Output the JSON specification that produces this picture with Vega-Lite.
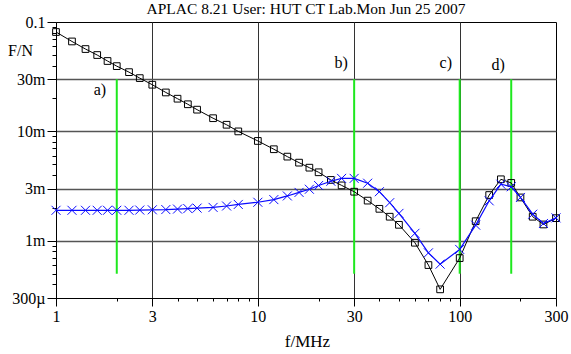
{
  "$schema": "https://vega.github.io/schema/vega-lite/v6.json",
  "width": 500,
  "height": 276,
  "autosize": {"type": "none"},
  "padding": {"left": 56, "top": 22, "right": 15, "bottom": 56},
  "background": "white",
  "title": {"text": "APLAC 8.21 User: HUT CT Lab.Mon Jun 25 2007", "font": "Liberation Serif", "fontSize": 15.5, "fontWeight": "normal", "color": "black", "anchor": "middle", "offset": -15, "baseline": "alphabetic"},
  "config": {
    "font": "Liberation Serif",
    "view": {"stroke": "black", "strokeWidth": 1},
    "axis": {"domainColor": "black", "domainWidth": 1, "tickColor": "black", "tickWidth": 1, "labelColor": "black", "titleColor": "black", "labelFont": "Liberation Serif", "titleFont": "Liberation Serif", "labelFontSize": 16, "titleFontSize": 16, "titleFontWeight": "normal", "labelOverlap": false, "labelFlush": false, "labelBound": false}
  },
  "datasets": {
    "curves": [
      {"f": 1, "v": 0.081, "s": "black"}, {"f": 1.2, "v": 0.0664, "s": "black"}, {"f": 1.4, "v": 0.0566, "s": "black"}, {"f": 1.6, "v": 0.0499, "s": "black"}, {"f": 1.8, "v": 0.044, "s": "black"}, {"f": 2, "v": 0.0395, "s": "black"}, {"f": 2.3, "v": 0.0348, "s": "black"}, {"f": 2.6, "v": 0.0307, "s": "black"}, {"f": 3, "v": 0.0267, "s": "black"}, {"f": 3.5, "v": 0.0227, "s": "black"}, {"f": 4, "v": 0.0199, "s": "black"}, {"f": 4.5, "v": 0.0177, "s": "black"}, {"f": 5, "v": 0.0158, "s": "black"}, {"f": 6, "v": 0.0132, "s": "black"}, {"f": 7, "v": 0.0115, "s": "black"}, {"f": 8, "v": 0.01, "s": "black"}, {"f": 10, "v": 0.00818, "s": "black"}, {"f": 12, "v": 0.00687, "s": "black"}, {"f": 14, "v": 0.00588, "s": "black"}, {"f": 16, "v": 0.00518, "s": "black"}, {"f": 18, "v": 0.00466, "s": "black"}, {"f": 20, "v": 0.00423, "s": "black"}, {"f": 23, "v": 0.0036, "s": "black"}, {"f": 26, "v": 0.00321, "s": "black"}, {"f": 30, "v": 0.00281, "s": "black"}, {"f": 35, "v": 0.00233, "s": "black"}, {"f": 40, "v": 0.00196, "s": "black"}, {"f": 45, "v": 0.00166, "s": "black"}, {"f": 50, "v": 0.0014, "s": "black"}, {"f": 60, "v": 0.00096, "s": "black"}, {"f": 70, "v": 0.0006, "s": "black"}, {"f": 80, "v": 0.00036, "s": "black"}, {"f": 100, "v": 0.000695, "s": "black"}, {"f": 120, "v": 0.00151, "s": "black"}, {"f": 140, "v": 0.00262, "s": "black"}, {"f": 160, "v": 0.00365, "s": "black"}, {"f": 180, "v": 0.00338, "s": "black"}, {"f": 200, "v": 0.00249, "s": "black"}, {"f": 230, "v": 0.00166, "s": "black"}, {"f": 260, "v": 0.00141, "s": "black"}, {"f": 300, "v": 0.00161, "s": "black"},
      {"f": 1, "v": 0.0019, "s": "blue"}, {"f": 1.2, "v": 0.0019, "s": "blue"}, {"f": 1.4, "v": 0.0019, "s": "blue"}, {"f": 1.6, "v": 0.0019, "s": "blue"}, {"f": 1.8, "v": 0.0019, "s": "blue"}, {"f": 2, "v": 0.0019, "s": "blue"}, {"f": 2.3, "v": 0.0019, "s": "blue"}, {"f": 2.6, "v": 0.00191, "s": "blue"}, {"f": 3, "v": 0.00192, "s": "blue"}, {"f": 3.5, "v": 0.00193, "s": "blue"}, {"f": 4, "v": 0.00195, "s": "blue"}, {"f": 4.5, "v": 0.00197, "s": "blue"}, {"f": 5, "v": 0.00199, "s": "blue"}, {"f": 6, "v": 0.00202, "s": "blue"}, {"f": 7, "v": 0.00208, "s": "blue"}, {"f": 8, "v": 0.00215, "s": "blue"}, {"f": 10, "v": 0.00225, "s": "blue"}, {"f": 12, "v": 0.00238, "s": "blue"}, {"f": 14, "v": 0.00257, "s": "blue"}, {"f": 16, "v": 0.00277, "s": "blue"}, {"f": 18, "v": 0.00296, "s": "blue"}, {"f": 20, "v": 0.0032, "s": "blue"}, {"f": 23, "v": 0.0035, "s": "blue"}, {"f": 26, "v": 0.00372, "s": "blue"}, {"f": 30, "v": 0.00372, "s": "blue"}, {"f": 35, "v": 0.00336, "s": "blue"}, {"f": 40, "v": 0.00281, "s": "blue"}, {"f": 45, "v": 0.00223, "s": "blue"}, {"f": 50, "v": 0.00178, "s": "blue"}, {"f": 60, "v": 0.00117, "s": "blue"}, {"f": 70, "v": 0.000776, "s": "blue"}, {"f": 80, "v": 0.000612, "s": "blue"}, {"f": 100, "v": 0.000834, "s": "blue"}, {"f": 120, "v": 0.00139, "s": "blue"}, {"f": 140, "v": 0.00232, "s": "blue"}, {"f": 160, "v": 0.00329, "s": "blue"}, {"f": 180, "v": 0.00312, "s": "blue"}, {"f": 200, "v": 0.00249, "s": "blue"}, {"f": 230, "v": 0.00175, "s": "blue"}, {"f": 260, "v": 0.00144, "s": "blue"}, {"f": 300, "v": 0.00162, "s": "blue"}
    ],
    "markers": [
      {"f": 2, "lo": 0.0005, "hi": 0.03},
      {"f": 30, "lo": 0.0005, "hi": 0.03},
      {"f": 100, "lo": 0.0005, "hi": 0.03},
      {"f": 180, "lo": 0.0005, "hi": 0.03}
    ],
    "labels": [
      {"f": 1.65, "v": 0.024, "t": "a)"},
      {"f": 25.9, "v": 0.042, "t": "b)"},
      {"f": 85.3, "v": 0.042, "t": "c)"},
      {"f": 155, "v": 0.0405, "t": "d)"}
    ]
  },
  "layer": [
    {
      "data": {"name": "markers"},
      "mark": {"type": "rule", "color": "#1ee81e", "strokeWidth": 2},
      "encoding": {
        "x": {"field": "f", "type": "quantitative", "scale": {"type": "log", "domain": [1, 300], "nice": false},
          "axis": {"title": "f/MHz", "titleX": 251, "titleY": 48, "titleBaseline": "alphabetic", "titleAnchor": "middle", "titleFont": "Liberation Serif", "titleFontSize": 17, "labelFont": "Liberation Serif",
            "values": [1, 2, 3, 4, 5, 6, 7, 8, 9, 10, 20, 30, 40, 50, 60, 70, 80, 90, 100, 200, 300],
            "labelExpr": "indexof([1,3,10,30,100,300], datum.value) >= 0 ? '' + datum.value : ''",
            "tickSize": {"condition": {"test": "indexof([1,3,10,30,100,300], datum.value) >= 0", "value": 8}, "value": 3},
            "labelPadding": 2,
            "grid": true,
            "gridColor": "#333333",
            "gridWidth": 1,
            "gridOpacity": {"condition": {"test": "indexof([3,10,30,100], datum.value) >= 0", "value": 1}, "value": 0}}},
        "y": {"field": "lo", "type": "quantitative", "scale": {"type": "log", "domain": [0.0003, 0.1], "nice": false},
          "axis": {"title": "F/N", "titleAngle": 0, "titleX": -36, "titleY": 28, "titleAlign": "center", "titleBaseline": "middle", "titleFont": "Liberation Serif", "labelFont": "Liberation Serif",
            "values": [0.0003, 0.0004, 0.0005, 0.0006, 0.0007, 0.0008, 0.0009, 0.001, 0.002, 0.003, 0.004, 0.005, 0.006, 0.007, 0.008, 0.009, 0.01, 0.02, 0.03, 0.04, 0.05, 0.06, 0.07, 0.08, 0.09, 0.1],
            "labelExpr": "datum.value == 0.1 ? '0.1' : datum.value == 0.03 ? '30m' : datum.value == 0.01 ? '10m' : datum.value == 0.003 ? '3m' : datum.value == 0.001 ? '1m' : datum.value == 0.0003 ? '300µ' : ''",
            "tickSize": {"condition": {"test": "indexof([0.1,0.03,0.01,0.003,0.001,0.0003], datum.value) >= 0", "value": 9}, "value": 4},
            "labelPadding": 2,
            "grid": true,
            "gridColor": "#555555",
            "gridWidth": 1.5,
            "gridOpacity": {"condition": {"test": "indexof([0.03,0.01,0.003,0.001], datum.value) >= 0", "value": 1}, "value": 0}}},
        "y2": {"field": "hi"}
      }
    },
    {
      "data": {"name": "curves"},
      "transform": [{"filter": "datum.s == 'black'"}],
      "mark": {"type": "line", "color": "black", "strokeWidth": 1},
      "encoding": {
        "x": {"field": "f", "type": "quantitative"},
        "y": {"field": "v", "type": "quantitative"}
      }
    },
    {
      "data": {"name": "curves"},
      "transform": [{"filter": "datum.s == 'black'"}],
      "mark": {"type": "point", "shape": "square", "size": 45, "filled": false, "stroke": "black", "strokeWidth": 1, "opacity": 1},
      "encoding": {
        "x": {"field": "f", "type": "quantitative"},
        "y": {"field": "v", "type": "quantitative"}
      }
    },
    {
      "data": {"name": "curves"},
      "transform": [{"filter": "datum.s == 'blue'"}],
      "mark": {"type": "line", "color": "#0a0aff", "strokeWidth": 1.2},
      "encoding": {
        "x": {"field": "f", "type": "quantitative"},
        "y": {"field": "v", "type": "quantitative"}
      }
    },
    {
      "data": {"name": "curves"},
      "transform": [{"filter": "datum.s == 'blue'"}],
      "mark": {"type": "point", "shape": "M-1,-1L1,1M-1,1L1,-1", "size": 81, "filled": false, "stroke": "#0a0aff", "strokeWidth": 1, "opacity": 1},
      "encoding": {
        "x": {"field": "f", "type": "quantitative"},
        "y": {"field": "v", "type": "quantitative"}
      }
    },
    {
      "data": {"name": "labels"},
      "mark": {"type": "text", "font": "Liberation Serif", "fontSize": 16, "color": "black", "align": "center", "baseline": "middle"},
      "encoding": {
        "x": {"field": "f", "type": "quantitative"},
        "y": {"field": "v", "type": "quantitative"},
        "text": {"field": "t"}
      }
    }
  ]
}
